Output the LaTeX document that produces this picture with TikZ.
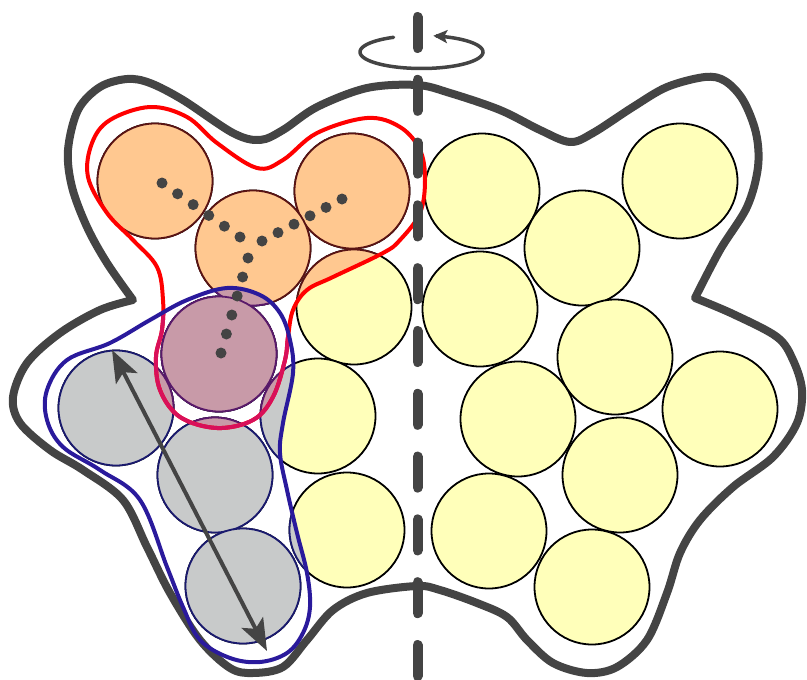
\documentclass[tikz,border=0pt]{standalone}
\usetikzlibrary{arrows.meta,calc}

\definecolor{ink}{HTML}{444444}
\definecolor{ballyellow}{HTML}{FFFFBA}
\definecolor{ballorange}{HTML}{FFC890}
\definecolor{ballgrey}{HTML}{C8CACA}
\definecolor{ballmauve}{HTML}{C89AA8}
\definecolor{rimbrown}{HTML}{5A1414}
\definecolor{rimnavy}{HTML}{1A1A6E}
\definecolor{rimpurple}{HTML}{5A1A6A}
\definecolor{hullred}{HTML}{FF0000}
\definecolor{hullblue}{HTML}{2A1A9C}
\definecolor{hullcrimson}{HTML}{D8105A}

% outlines of the two sub-groups
\def\redhull{plot[smooth cycle, tension=0.6] coordinates {
  (110,120) (150,107) (187,117) (217,143) (257,168) (283,160) (317,133)
  (367,118) (400,127) (420,150) (425,180) (420,213) (400,240) (383,253)
  (333,277) (307,290) (293,310) (288,337) (285,360) (273,397) (253,420)
  (217,428) (180,417) (160,390) (156,357) (162,330) (163,300) (157,267)
  (133,240) (107,213) (88,177) (92,143)}}
\def\bluehull{plot[smooth cycle, tension=0.6] coordinates {
  (110,343) (150,320) (187,300) (227,288) (260,295) (280,313) (290,340)
  (293,373) (283,423) (280,453) (287,490) (297,533) (307,573) (310,607)
  (303,633) (287,653) (260,662) (230,658) (200,640) (183,607) (167,567)
  (140,500) (100,470) (63,447) (47,420) (47,390) (67,360)}}

\begin{document}
\begin{tikzpicture}[x=1pt,y=-1pt,
  ball/.style={circle, draw=black, fill=ballyellow, line width=1.8pt,
    minimum size=115pt, inner sep=0pt},
  tinted/.style 2 args={fill=#1, draw=#2, line width=1.8pt},
  dot/.style={fill=ink},
  hull/.style={line width=8pt, draw=ink, line join=round},
  subhull/.style={line width=4pt, line join=round}]
\useasboundingbox (0,0) rectangle (807,680);

% spheres
\foreach \n/\x/\y in {
  a/155/181, b/352/191, c/253/248, d/354/307, p/219/354,
  g/116/408, h/215/475, k/243/586, e/318/416, f/347/530,
  r1/482/191, r2/582/248, r3/680/181, r4/480/309, r5/615/357,
  r6/518/419, r7/720/409, r8/620/475, r9/489/531, r10/592/587}
  \node[ball] (\n) at (\x,\y) {};

% colouring inside the sub-groups
\begin{scope}
  \clip \redhull;
  \foreach \n in {a,b,c,d,p,g,h,k,e,f}
    \draw[tinted={ballorange}{rimbrown}] (\n.center) circle[radius=57.5pt];
\end{scope}
\begin{scope}
  \clip \bluehull;
  \foreach \n in {a,b,c,d,p,g,h,k,e,f}
    \draw[tinted={ballgrey}{rimnavy}] (\n.center) circle[radius=57.5pt];
\end{scope}
\begin{scope}
  \clip \redhull;
  \clip \bluehull;
  \foreach \n in {a,b,c,d,p,g,h,k,e,f}
    \draw[tinted={ballmauve}{rimpurple}] (\n.center) circle[radius=57.5pt];
\end{scope}

% molecular outline
\draw[hull]
  plot[smooth, tension=0.55] coordinates {
  (133,300) (107,263) (87,227) (72,187) (68,150) (78,110) (100,87)
  (127,79) (150,83) (183,100) (233,133) (260,140) (283,130) (317,107)
  (367,88) (417,85) (450,93) (500,110) (540,130) (570,142) (593,133)
  (633,107) (667,87) (705,77) (725,81) (743,100) (756,133) (758,167)
  (747,207) (720,250) (695,298)}
  -- plot[smooth, tension=0.55] coordinates {
  (695,298) (733,314) (777,337) (793,360) (802,390) (797,423) (773,457)
  (733,487) (700,520) (680,553) (667,593) (647,640) (617,667) (587,673)
  (553,663) (527,640) (507,617) (477,603) (440,590) (417,586) (367,593)
  (333,610) (307,640) (283,667) (253,673) (230,668) (200,640) (170,593)
  (147,547) (123,500) (83,470) (50,450) (20,423) (13,397) (27,363)
  (60,333) (100,310) (133,300)} -- cycle;

% sub-group outlines
\draw[subhull, draw=hullred] \redhull;
\begin{scope}
  \clip \bluehull;
  \draw[subhull, draw=hullcrimson] \redhull;
\end{scope}
\draw[subhull, draw=hullblue] \bluehull;

% dotted links between sphere centres
\coordinate (la) at (162,183); \coordinate (lb) at (240,237);
\coordinate (ra) at (342,199); \coordinate (rb) at (262,241);
\coordinate (da) at (221,353); \coordinate (db) at (248,258);
\foreach \s/\t in {la/lb, ra/rb, da/db}
  \foreach \i in {0,...,5}
    \fill[dot] ($(\s)!\i/5!(\t)$) circle[radius=5.5pt];

% length arrow
\coordinate (at) at (112,350);
\coordinate (ab) at (267,651);
\draw[ink, line width=4pt,
  {Stealth[length=32pt,width=24pt,inset=7pt]}-{Stealth[length=32pt,width=24pt,inset=7pt]}]
  (at) -- (ab);

% symmetry axis
\coordinate (axtop) at (417.5,17);
\coordinate (axbot) at (417.5,700);
\draw[ink, line width=10pt, line cap=round, dash pattern=on 31pt off 31.8pt]
  (axtop) -- (axbot);

% rotation sense
\draw[ink, line width=3.5pt, line cap=round, -{Stealth[length=14pt,width=13pt,inset=3pt]}]
  plot[domain=117:439, samples=90, smooth] ({421.5+61.5*cos(\x)},{52-16.5*sin(\x)});
\end{tikzpicture}
\end{document}
